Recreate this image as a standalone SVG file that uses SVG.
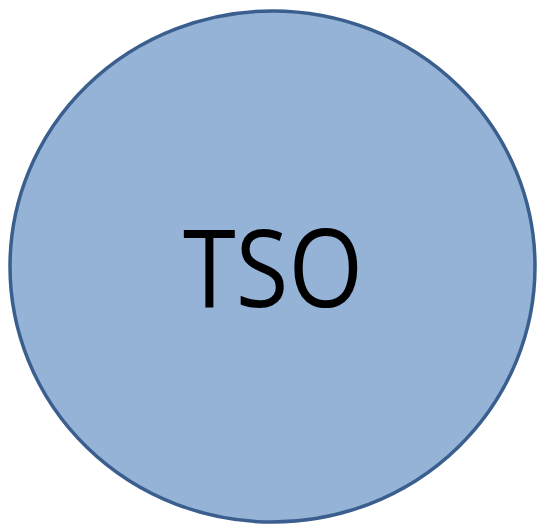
<svg xmlns="http://www.w3.org/2000/svg" width="537" height="525" viewBox="0 0 537 525">
<style>
.node{fill:#95B3D7;stroke:#3A5F8E;stroke-width:3.5}
.lbl{font-family:"Open Sans","Liberation Sans",sans-serif;font-size:108px;fill:#000}
</style>
<rect width="537" height="525" fill="#fff"/>
<g id="connectors"></g>
<g id="tso">
<ellipse class="node" cx="272.5" cy="266.5" rx="262.5" ry="255.5"/>
<text class="lbl" x="183" y="307" textLength="180" lengthAdjust="spacingAndGlyphs">TSO</text>
</g>
</svg>
